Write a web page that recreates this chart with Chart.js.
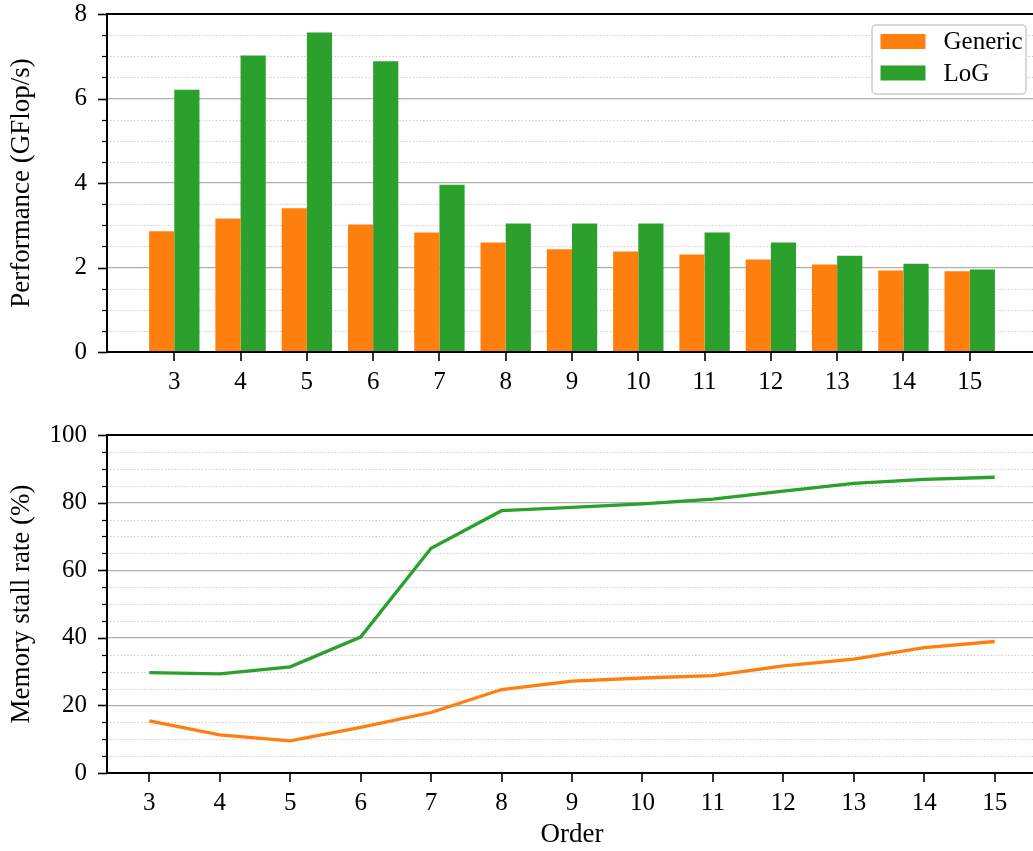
<!DOCTYPE html>
<html>
<head>
<meta charset="utf-8">
<title>Performance and memory stall rate</title>
<script src="https://cdn.jsdelivr.net/npm/chart.js@4.4.1/dist/chart.umd.min.js"></script>
<style>
  html, body { margin: 0; padding: 0; background: #fff; overflow: hidden; }
  #wrap { position: relative; width: 1033px; height: 851px; overflow: hidden; }
  .box { position: absolute; left: 0; width: 1040px; }
  #perf-box { top: 0; height: 400px; }
  #stall-box { top: 400px; height: 451px; }
</style>
</head>
<body>
<div id="wrap">
  <div class="box" id="perf-box"><canvas id="perfChart" width="1040" height="400"></canvas></div>
  <div class="box" id="stall-box"><canvas id="stallChart" width="1040" height="451"></canvas></div>
</div>
<script>
// data
const orders = [3, 4, 5, 6, 7, 8, 9, 10, 11, 12, 13, 14, 15];
const perfGeneric = [2.86, 3.16, 3.40, 3.02, 2.83, 2.59, 2.43, 2.38, 2.31, 2.19, 2.07, 1.93, 1.91];
const perfLoG = [6.21, 7.02, 7.56, 6.88, 3.96, 3.04, 3.04, 3.04, 2.83, 2.59, 2.28, 2.09, 1.95];
const stallGeneric = [15.4, 11.3, 9.5, 13.5, 17.9, 24.7, 27.2, 28.1, 28.8, 31.7, 33.7, 37.1, 38.9];
const stallLoG = [29.7, 29.3, 31.4, 40.2, 66.5, 77.6, 78.6, 79.6, 81.0, 83.4, 85.7, 86.9, 87.5];
const perfTicks = [0, 2, 4, 6, 8];
const stallTicks = [0, 20, 40, 60, 80, 100];

const ORANGE = '#ff7f0e';
const GREEN = '#2ca02c';
const FONT = "'Liberation Serif', 'Times New Roman', serif";

Chart.defaults.color = '#000';
Chart.defaults.font.family = FONT;
Chart.defaults.font.size = 25;

// matplotlib-ish frame: minor dotted grid, tick marks, spines, legend box
const axesFrame = {
    id: 'axesFrame',
    beforeDatasetsDraw(chart, args, opts) {
        const { ctx, chartArea: a, scales: { x, y } } = chart;
        const n = Math.round(y.max / opts.minorStep);
        ctx.save();
        for (let k = 0; k <= n; k++) {
            const v = k * opts.minorStep;
            const major = opts.majors.some(m => Math.abs(m - v) < 1e-6);
            const py = Math.round(y.getPixelForValue(v)) + 0.5;
            if (!major) {
                ctx.strokeStyle = '#c2c2c2';
                ctx.lineWidth = 1;
                ctx.setLineDash([1.2, 2.2]);
                ctx.beginPath();
                ctx.moveTo(a.left, py);
                ctx.lineTo(a.right, py);
                ctx.stroke();
            }
            ctx.setLineDash([]);
            ctx.strokeStyle = '#000';
            ctx.lineWidth = major ? 1.6 : 1.2;
            ctx.beginPath();
            ctx.moveTo(a.left, py);
            ctx.lineTo(a.left - (major ? 9 : 5), py);
            ctx.stroke();
        }
        ctx.lineWidth = 1.6;
        x.ticks.forEach(t => {
            const px = Math.round(x.getPixelForValue(t.value));
            ctx.beginPath();
            ctx.moveTo(px, a.bottom);
            ctx.lineTo(px, a.bottom + 9);
            ctx.stroke();
        });
        ctx.restore();
    },
    afterDatasetsDraw(chart, args, opts) {
        const { ctx, chartArea: a } = chart;
        ctx.save();
        ctx.strokeStyle = '#000';
        ctx.lineWidth = 2;
        ctx.strokeRect(a.left, a.top, a.right - a.left, a.bottom - a.top);

        if (opts.legend) {
            const bw = 154, bh = 69;
            const bx = a.right - 11 - bw, by = a.top + 11;
            ctx.fillStyle = 'rgba(255,255,255,0.9)';
            ctx.strokeStyle = '#cccccc';
            ctx.lineWidth = 1.5;
            ctx.beginPath();
            ctx.roundRect(bx, by, bw, bh, 4);
            ctx.fill();
            ctx.stroke();
            chart.data.datasets.forEach((ds, i) => {
                const cy = by + 16.5 + i * 31.5;
                ctx.fillStyle = ds.backgroundColor;
                ctx.fillRect(bx + 8.5, cy - 7.5, 45, 15);
                ctx.fillStyle = '#000';
                ctx.font = '25px ' + FONT;
                ctx.textBaseline = 'middle';
                ctx.textAlign = 'left';
                ctx.fillText(ds.label, bx + 71.5, cy + 1);
            });
        }
        ctx.restore();
    }
};

function fixWidth(w) {
    return scale => {
        scale.width = w;
        scale.paddingTop = 0; scale.paddingBottom = 0;
        scale.paddingLeft = 0; scale.paddingRight = 0;
    };
}
function fixHeight(h) {
    return scale => {
        scale.height = h;
        scale.paddingTop = 0; scale.paddingBottom = 0;
        scale.paddingLeft = 0; scale.paddingRight = 0;
    };
}

function yAxis(max, ticks, title) {
    return {
        type: 'linear',
        min: 0,
        max: max,
        afterBuildTicks: scale => { scale.ticks = ticks.map(v => ({ value: v })); },
        afterFit: fixWidth(107),
        border: { display: false },
        grid: { color: '#b0b0b0', lineWidth: 1.3, drawTicks: false },
        ticks: { padding: 20, autoSkip: false },
        title: { display: true, text: title, font: { size: 27 }, padding: { top: 6, bottom: 0 } }
    };
}

function xAxis(min, max, height, title) {
    return {
        type: 'linear',
        min: min,
        max: max,
        offset: false,
        afterBuildTicks: scale => { scale.ticks = orders.map(v => ({ value: v })); },
        afterFit: fixHeight(height),
        border: { display: false },
        grid: { display: false, drawTicks: false, offset: false },
        ticks: { padding: 15, autoSkip: false, maxRotation: 0, callback: v => String(v) },
        title: title ? { display: true, text: title, font: { size: 27 }, padding: { top: 0, bottom: 0 } } : { display: false }
    };
}

new Chart(document.getElementById('perfChart'), {
    type: 'bar',
    data: {
        datasets: [{
            label: 'Generic',
            data: orders.map((o, i) => ({ x: o, y: perfGeneric[i] })),
            backgroundColor: ORANGE
        }, {
            label: 'LoG',
            data: orders.map((o, i) => ({ x: o, y: perfLoG[i] })),
            backgroundColor: GREEN
        }]
    },
    options: {
        responsive: false,
        animation: false,
        devicePixelRatio: 1,
        categoryPercentage: 0.76,
        barPercentage: 1.0,
        layout: { padding: { top: 14, right: 3, left: 0, bottom: 0 } },
        scales: {
            x: xAxis(1.985, 16.015, 48, null),
            y: yAxis(8, perfTicks, 'Performance (GFlop/s)')
        },
        plugins: {
            legend: { display: false },
            tooltip: { enabled: false },
            axesFrame: { minorStep: 0.5, majors: perfTicks, legend: true }
        }
    },
    plugins: [axesFrame]
});

new Chart(document.getElementById('stallChart'), {
    type: 'line',
    data: {
        datasets: [{
            label: 'Generic',
            data: orders.map((o, i) => ({ x: o, y: stallGeneric[i] })),
            borderColor: ORANGE,
            backgroundColor: ORANGE,
            borderWidth: 3.3,
            pointRadius: 0,
            tension: 0
        }, {
            label: 'LoG',
            data: orders.map((o, i) => ({ x: o, y: stallLoG[i] })),
            borderColor: GREEN,
            backgroundColor: GREEN,
            borderWidth: 3.3,
            pointRadius: 0,
            tension: 0
        }]
    },
    options: {
        responsive: false,
        animation: false,
        devicePixelRatio: 1,
        layout: { padding: { top: 35, right: 3, left: 0, bottom: 0 } },
        scales: {
            x: xAxis(2.4, 15.6, 78, 'Order'),
            y: yAxis(100, stallTicks, 'Memory stall rate (%)')
        },
        plugins: {
            legend: { display: false },
            tooltip: { enabled: false },
            axesFrame: { minorStep: 5, majors: stallTicks, legend: false }
        }
    },
    plugins: [axesFrame]
});
</script>
</body>
</html>
